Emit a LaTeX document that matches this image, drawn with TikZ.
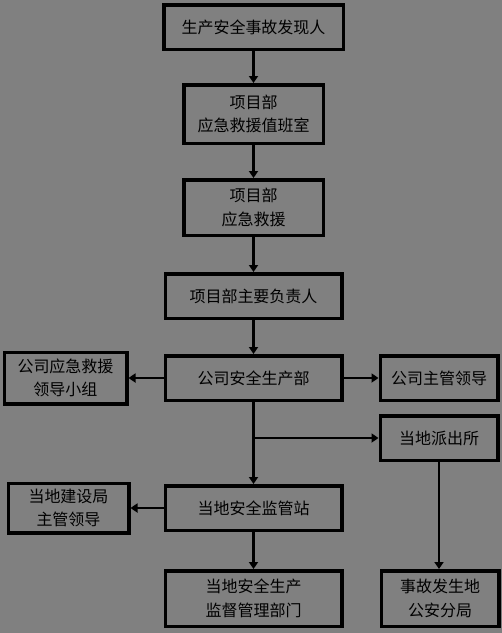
\documentclass[tikz,border=0pt]{standalone}
\usepackage{fontspec}
\newfontfamily\cjk{Noto Sans CJK SC}
\usetikzlibrary{arrows.meta}
\usetikzlibrary{positioning}

\begin{document}
\begin{tikzpicture}[
    flowBox/.style={
        rectangle, draw=black, line width=3.5pt,
        inner sep=0pt,
        font=\fontsize{16pt}{23.5pt}\cjk,
        align=center
    },
    flowArrow/.style={
        -{Triangle[length=7pt,width=9pt]},
        line width=2.5pt
    }
]
\fill[black!50] (0pt,0pt) rectangle (502pt,-633pt);
\useasboundingbox (0pt,0pt) rectangle (502pt,-633pt);

\node[flowBox, minimum width=179.5pt, minimum height=44.5pt] (finder) at (253.5pt,-27pt) {生产安全事故发现人};
\node[flowBox, minimum width=139.5pt, minimum height=58.5pt, below=32pt of finder] (duty) {项目部\\应急救援值班室};
\node[flowBox, minimum width=139.5pt, minimum height=55.5pt, below=33pt of duty] (rescue) {项目部\\应急救援};
\node[flowBox, minimum width=176.5pt, minimum height=44.5pt, below=35pt of rescue] (head) {项目部主要负责人};
\node[flowBox, minimum width=176.5pt, minimum height=44.5pt, below=34pt of head] (dept) {公司安全生产部};
\node[flowBox, minimum width=122.5pt, minimum height=51.5pt, left=35pt of dept] (group) {公司应急救援\\领导小组};
\node[flowBox, minimum width=117.5pt, minimum height=44.5pt, right=35pt of dept] (leader) {公司主管领导};
\node[flowBox, minimum width=117.5pt, minimum height=44.5pt, below=12pt of leader] (police) {当地派出所};
\node[flowBox, minimum width=176.5pt, minimum height=44.5pt, below=82pt of dept] (station) {当地安全监管站};
\node[flowBox, minimum width=120.5pt, minimum height=49.5pt, left=33pt of station] (bureau) {当地建设局\\主管领导};
\node[flowBox, minimum width=176.5pt, minimum height=55.5pt, below=37pt of station] (authority) {当地安全生产\\监督管理部门};
\node[flowBox, minimum width=117.5pt, minimum height=55.5pt, right=36pt of authority] (security) {事故发生地\\公安分局};

% main line
\draw[flowArrow] (finder) -- (duty);
\draw[flowArrow] (duty) -- (rescue);
\draw[flowArrow] (rescue) -- (head);
\draw[flowArrow] (head) -- (dept);
\draw[flowArrow] (dept) -- (station);
\draw[flowArrow] (station) -- (authority);
% side branches
\draw[flowArrow] (dept) -- (group);
\draw[flowArrow] (dept) -- (leader);
\draw[flowArrow] (dept.south |- police.west) -- (police.west);
\draw[flowArrow] (station) -- (bureau);
\draw[flowArrow] (police.south) -- (police.south |- security.north);
\end{tikzpicture}
\end{document}
